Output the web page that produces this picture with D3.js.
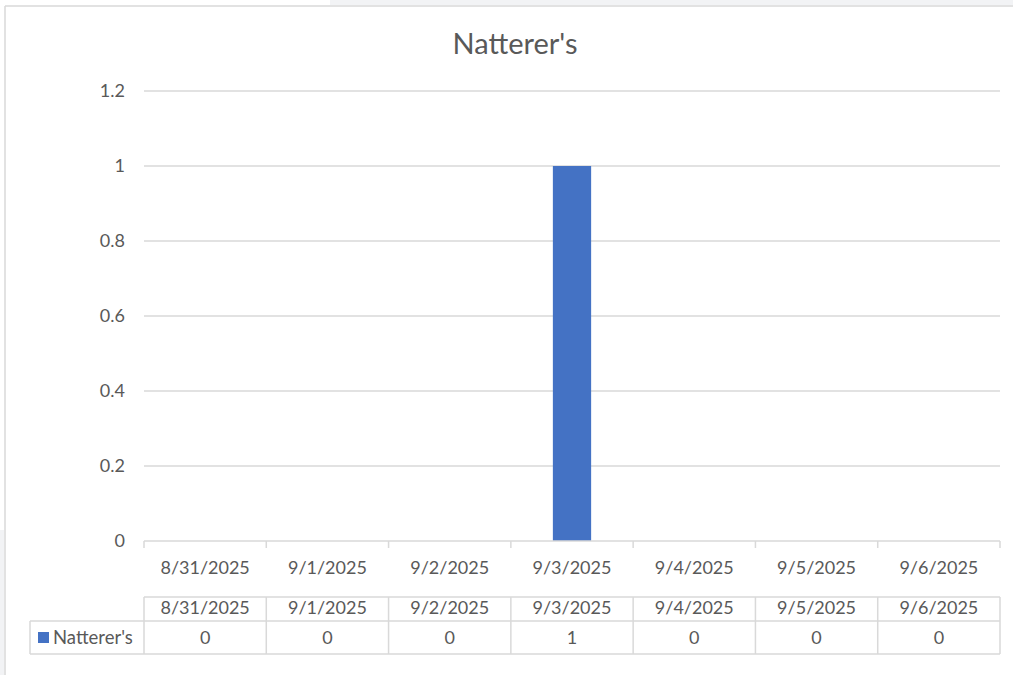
<!DOCTYPE html>
<html>
<head>
<meta charset="utf-8">
<script src="https://cdn.jsdelivr.net/npm/d3@7"></script>
<style>
  body { margin: 0; background: #fff; }
  svg text { font-family: Lato, "Open Sans", sans-serif; fill: #595959; }
</style>
</head>
<body>
<div id="chart"></div>
<script>
// chart data
var title = "Natterer's";
var seriesName = "Natterer's";
var dates = ["8/31/2025", "9/1/2025", "9/2/2025", "9/3/2025", "9/4/2025", "9/5/2025", "9/6/2025"];
var values = [0, 0, 0, 1, 0, 0, 0];
var yTicks = [0, 0.2, 0.4, 0.6, 0.8, 1, 1.2];

var W = 1013, H = 675;
var plotLeft = 144, plotRight = 1000, plotTop = 91, plotBottom = 541;

var svg = d3.select("#chart")
    .append("svg")
    .attr("width", W)
    .attr("height", H);

// outer frame bits (screenshot edges)
svg.append("rect").attr("x", 330).attr("y", 0).attr("width", W - 330).attr("height", 5).attr("fill", "#f2f3f5");
svg.append("rect").attr("x", 0).attr("y", 530).attr("width", 4).attr("height", H - 530).attr("fill", "#f2f3f5");
svg.append("line").attr("x1", 5).attr("x2", W).attr("y1", 6).attr("y2", 6).attr("stroke", "#d9d9d9").attr("stroke-width", 1.5);
svg.append("line").attr("x1", 5).attr("x2", 5).attr("y1", 6).attr("y2", H).attr("stroke", "#d9d9d9").attr("stroke-width", 1.5);

var x = d3.scaleBand().domain(dates).range([plotLeft, plotRight]).padding(0);
var y = d3.scaleLinear().domain([0, 1.2]).range([plotBottom, plotTop]);
var bw = x.bandwidth();
var barW = bw * 0.313;

// title
svg.append("text")
    .attr("x", 515)
    .attr("y", 54)
    .attr("text-anchor", "middle")
    .style("font-size", "29px")
    .text(title);

// gridlines
svg.append("g").selectAll("line")
    .data(yTicks.filter(function(d){ return d > 0; }))
    .enter().append("line")
    .attr("x1", plotLeft).attr("x2", plotRight)
    .attr("y1", function(d){ return y(d); })
    .attr("y2", function(d){ return y(d); })
    .attr("stroke", "#d9d9d9")
    .attr("stroke-width", 1.5);

// y labels
svg.append("g").selectAll("text")
    .data(yTicks)
    .enter().append("text")
    .attr("x", 125)
    .attr("y", function(d){ return y(d); })
    .attr("dy", "0.35em")
    .attr("text-anchor", "end")
    .style("font-size", "18px")
    .text(function(d){ return d; });

// bars
svg.append("g").selectAll("rect")
    .data(values)
    .enter().append("rect")
    .attr("x", function(d, i){ return x(dates[i]) + (bw - barW) / 2; })
    .attr("y", function(d){ return y(d); })
    .attr("width", barW)
    .attr("height", function(d){ return y(0) - y(d); })
    .attr("fill", "#4472c4");

// x axis line + ticks
svg.append("line")
    .attr("x1", plotLeft).attr("x2", plotRight)
    .attr("y1", plotBottom).attr("y2", plotBottom)
    .attr("stroke", "#d9d9d9").attr("stroke-width", 1.5);
var bounds = dates.map(function(d){ return x(d); }).concat([plotRight]);
svg.append("g").selectAll("line")
    .data(bounds)
    .enter().append("line")
    .attr("x1", function(d){ return d; }).attr("x2", function(d){ return d; })
    .attr("y1", plotBottom).attr("y2", plotBottom + 7)
    .attr("stroke", "#d9d9d9").attr("stroke-width", 1.5);

// category labels
svg.append("g").selectAll("text")
    .data(dates)
    .enter().append("text")
    .attr("x", function(d){ return x(d) + bw / 2; })
    .attr("y", 568)
    .attr("dy", "0.35em")
    .attr("text-anchor", "middle")
    .style("font-size", "18px")
    .text(function(d){ return d; });

// data table
var rowTop = 597, rowMid = 621, rowBot = 654, legLeft = 30;
var grid = svg.append("g").attr("stroke", "#d9d9d9").attr("stroke-width", 1.5);
grid.append("line").attr("x1", plotLeft).attr("x2", plotRight).attr("y1", rowTop).attr("y2", rowTop);
grid.append("line").attr("x1", legLeft).attr("x2", plotRight).attr("y1", rowMid).attr("y2", rowMid);
grid.append("line").attr("x1", legLeft).attr("x2", plotRight).attr("y1", rowBot).attr("y2", rowBot);
grid.append("line").attr("x1", legLeft).attr("x2", legLeft).attr("y1", rowMid).attr("y2", rowBot);
grid.selectAll("line.v")
    .data(bounds)
    .enter().append("line")
    .attr("class", "v")
    .attr("x1", function(d){ return d; }).attr("x2", function(d){ return d; })
    .attr("y1", rowTop).attr("y2", rowBot);

svg.append("g").selectAll("text")
    .data(dates)
    .enter().append("text")
    .attr("x", function(d){ return x(d) + bw / 2; })
    .attr("y", 608)
    .attr("dy", "0.35em")
    .attr("text-anchor", "middle")
    .style("font-size", "18px")
    .text(function(d){ return d; });

svg.append("g").selectAll("text")
    .data(values)
    .enter().append("text")
    .attr("x", function(d, i){ return x(dates[i]) + bw / 2; })
    .attr("y", 638)
    .attr("dy", "0.35em")
    .attr("text-anchor", "middle")
    .style("font-size", "18px")
    .text(function(d){ return d; });

// legend key in table
svg.append("rect")
    .attr("x", 38).attr("y", 632).attr("width", 11).attr("height", 11)
    .attr("fill", "#4472c4");
svg.append("text")
    .attr("x", 53).attr("y", 638)
    .attr("dy", "0.35em")
    .style("font-size", "18.5px")
    .text(seriesName);
</script>
</body>
</html>
